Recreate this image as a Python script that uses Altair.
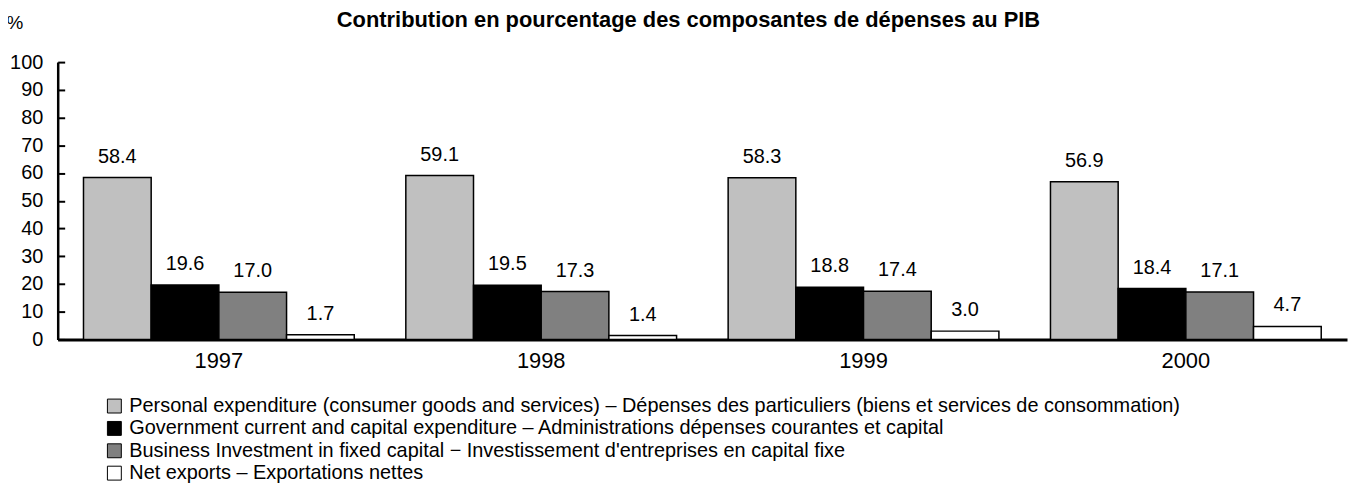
import altair as alt
import pandas as pd

years = ["1997", "1998", "1999", "2000"]
series = [
    "Personal expenditure (consumer goods and services) – Dépenses des particuliers (biens et services de consommation)",
    "Government current and capital expenditure – Administrations dépenses courantes et capital",
    "Business Investment in fixed capital − Investissement d'entreprises en capital fixe",
    "Net exports – Exportations nettes",
]
personal = [58.4, 59.1, 58.3, 56.9]
government = [19.6, 19.5, 18.8, 18.4]
business = [17.0, 17.3, 17.4, 17.1]
net_exports = [1.7, 1.4, 3.0, 4.7]
colors = ["#C0C0C0", "#000000", "#808080", "#FFFFFF"]
y_ticks = [0, 10, 20, 30, 40, 50, 60, 70, 80, 90, 100]

rows = []
for vals, s in zip([personal, government, business, net_exports], series):
    for y, v in zip(years, vals):
        rows.append({"year": y, "series": s, "value": v})
df = pd.DataFrame(rows)

FONT = "Liberation Sans"

x = alt.X("year:N", sort=years, title=None,
          scale=alt.Scale(paddingInner=0.16, paddingOuter=0.08),
          axis=alt.Axis(labelAngle=0, ticks=False, labelFontSize=22, labelPadding=11,
                        domainWidth=3, domainColor="black", labelColor="black"))
xo = alt.XOffset("series:N", sort=series, scale=alt.Scale(paddingInner=0, paddingOuter=0))
yscale = alt.Scale(domain=[0, 100], nice=False)

# axis with inward ticks and labels (no domain line)
y_ticks_axis = alt.Y("value:Q", title=None, scale=yscale,
                     axis=alt.Axis(orient="left", values=y_ticks, grid=False, domain=False,
                                   offset=-7, labelFontSize=20, labelColor="black",
                                   tickColor="black", tickWidth=2, tickSize=7,
                                   labelPadding=15))
# axis carrying the domain line and "%" title
y_line_axis = alt.Y("value:Q", title="%", scale=yscale,
                    axis=alt.Axis(orient="left", values=y_ticks, grid=False, labels=False,
                                  ticks=False, domainColor="black", domainWidth=2.5,
                                  titleAngle=0, titleX=-52, titleY=-34, titleAlign="left",
                                  titleBaseline="alphabetic", titleFontSize=19,
                                  titleFontWeight="normal", titleColor="black"))

bars = alt.Chart(df).mark_bar(stroke="black", strokeWidth=1.5).encode(
    x=x, xOffset=xo, y=y_ticks_axis,
    fill=alt.Fill("series:N", sort=series,
                  scale=alt.Scale(domain=series, range=colors),
                  legend=alt.Legend(title=None, orient="none", legendX=47, legendY=336,
                                    symbolType="square", symbolSize=196,
                                    symbolStrokeColor="black", symbolStrokeWidth=1,
                                    labelFontSize=20, labelLimit=1300, labelColor="black",
                                    rowPadding=2.5, labelOffset=5, padding=0)),
)

labels = alt.Chart(df).mark_text(baseline="bottom", dy=-11, fontSize=20, color="black").encode(
    x=x, xOffset=xo, y=y_line_axis,
    text=alt.Text("value:Q", format=".1f"),
)

chart = (bars + labels).resolve_axis(y="independent").properties(
    width=1297, height=279,
    autosize=alt.AutoSizeParams(type="none"),
    padding={"left": 50, "top": 53, "right": 2, "bottom": 145},
    title=alt.Title("Contribution en pourcentage des composantes de dépenses au PIB",
                    fontSize=22, fontWeight="bold", font=FONT, color="black",
                    anchor="middle", offset=-19, dx=-14),
).configure(font=FONT).configure_view(stroke=None)

chart.save("out.html", embed_options={"renderer": "svg", "actions": False})
